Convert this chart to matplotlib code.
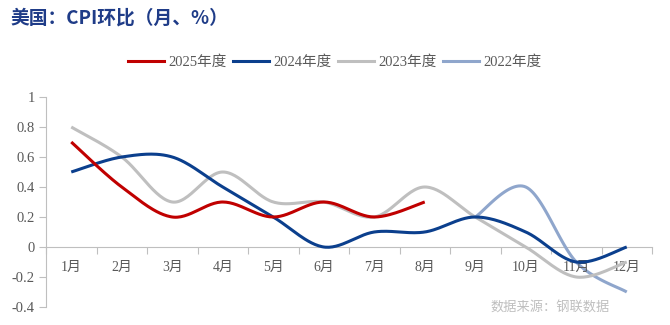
import numpy as np
import matplotlib
matplotlib.use("Agg")
import matplotlib.pyplot as plt
from matplotlib.lines import Line2D

plt.rcParams['font.family'] = ['Liberation Serif', 'Noto Sans CJK SC', 'DejaVu Sans']

months = ['1月', '2月', '3月', '4月', '5月', '6月', '7月', '8月', '9月', '10月', '11月', '12月']
s2025 = [0.7, 0.4, 0.2, 0.3, 0.2, 0.3, 0.2, 0.3]
s2024 = [0.5, 0.6, 0.6, 0.4, 0.2, 0.0, 0.1, 0.1, 0.2, 0.1, -0.1, 0.0]
s2023 = [0.8, 0.6, 0.3, 0.5, 0.3, 0.3, 0.2, 0.4, 0.2, 0.0, -0.2, -0.1]
s2022 = [None] * 8 + [0.2, 0.4, -0.1, -0.3]
names = ['2025年度', '2024年度', '2023年度', '2022年度']
colors = ['#C00000', '#0B3F8D', '#BFBFBF', '#8FA6CC']
yticks = [-0.4, -0.2, 0, 0.2, 0.4, 0.6, 0.8, 1]
ytick_labels = ['-0.4', '-0.2', '0', '0.2', '0.4', '0.6', '0.8', '1']


def smooth(xs, ys, n=30):
    # Excel-style smoothed line: cubic Bezier with Catmull-Rom control points
    xs = np.asarray(xs, float); ys = np.asarray(ys, float)
    px, py = [], []
    m = len(xs)
    for i in range(m - 1):
        p0 = (xs[max(i - 1, 0)], ys[max(i - 1, 0)])
        p1 = (xs[i], ys[i]); p2 = (xs[i + 1], ys[i + 1])
        p3 = (xs[min(i + 2, m - 1)], ys[min(i + 2, m - 1)])
        c1 = (p1[0] + (p2[0] - p0[0]) / 6, p1[1] + (p2[1] - p0[1]) / 6)
        c2 = (p2[0] - (p3[0] - p1[0]) / 6, p2[1] - (p3[1] - p1[1]) / 6)
        t = np.linspace(0, 1, n)
        bx = (1 - t) ** 3 * p1[0] + 3 * (1 - t) ** 2 * t * c1[0] + 3 * (1 - t) * t ** 2 * c2[0] + t ** 3 * p2[0]
        by = (1 - t) ** 3 * p1[1] + 3 * (1 - t) ** 2 * t * c1[1] + 3 * (1 - t) * t ** 2 * c2[1] + t ** 3 * p2[1]
        px.extend(bx); py.extend(by)
    return np.array(px), np.array(py)


fig = plt.figure(figsize=(6.7, 3.25), dpi=100)
ax = fig.add_axes([46 / 670, 1 - 307 / 325, (652 - 46) / 670, (307 - 97) / 325])

series = [s2025, s2024, s2023, s2022]
order = [3, 2, 1, 0]
for idx in order:
    data = series[idx]
    xs = [i for i, v in enumerate(data) if v is not None]
    ys = [v for v in data if v is not None]
    sx, sy = smooth(xs, ys)
    ax.plot(sx, sy, color=colors[idx], lw=2.2, solid_capstyle='butt', zorder=3 + (3 - idx))

ax.set_xlim(-0.5, 11.5)
ax.set_ylim(-0.4, 1.0)
for s in ['top', 'right']:
    ax.spines[s].set_visible(False)
ax.spines['left'].set_color('#BFBFBF')
ax.spines['bottom'].set_color('#BFBFBF')
ax.spines['bottom'].set_position(('data', 0))
ax.set_yticks(yticks)
ax.set_yticklabels(ytick_labels)
ax.tick_params(axis='y', colors='#BFBFBF', labelcolor='#595959', labelsize=10.5, length=5, direction='out', pad=3)
ax.set_xticks(np.arange(-0.5, 12, 1.0))
ax.set_xticklabels([])
ax.tick_params(axis='x', colors='#BFBFBF', length=5, direction='out')
for i, m in enumerate(months):
    ax.text(i, -0.135, m, ha='center', va='center', fontsize=10, color='#595959',
            family=['Liberation Serif', 'Noto Sans CJK SC'])

fig.text(10 / 670, 1 - 18 / 325, '美国：CPI环比（月、%）', fontsize=13.5, fontweight='bold',
         color='#1F3C88', ha='left', va='center', family=['Noto Sans CJK SC'])

handles = [Line2D([0], [0], color=c, lw=2.2) for c in colors]
fig.legend(handles, names, loc='center', bbox_to_anchor=(335 / 670, 1 - 62 / 325), ncol=4, frameon=False,
           handlelength=2.5, handletextpad=0.3, columnspacing=0.4, labelcolor='#595959',
           prop={'family': ['Liberation Serif', 'Noto Sans CJK SC'], 'size': 10.5})

fig.text(610 / 670, 1 - 308 / 325, '数据来源：钢联数据', fontsize=9.5, color='#BFBFBF', ha='right', va='center',
         family=['Noto Sans CJK SC'])

fig.savefig('out.png', dpi=100)
